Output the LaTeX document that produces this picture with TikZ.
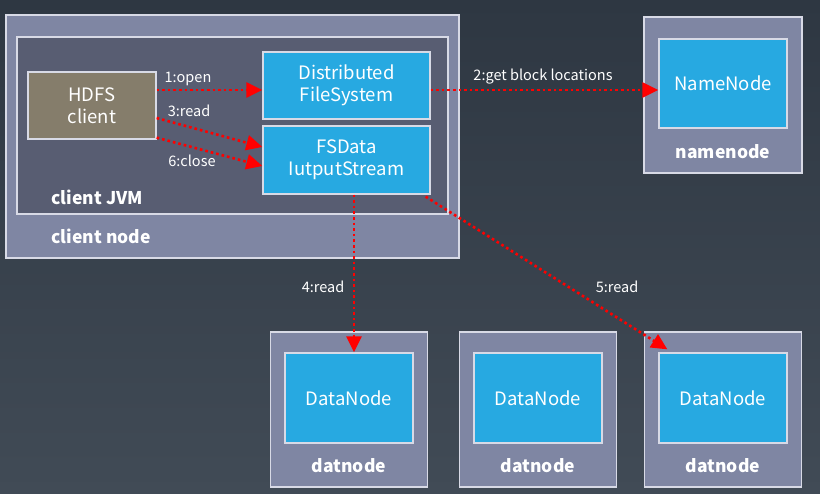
\documentclass[tikz,border=0pt]{standalone}
\usepackage{fontspec}
\setmainfont{Noto Sans CJK SC}
\usetikzlibrary{arrows.meta}

\definecolor{bgtop}{HTML}{2E3742}
\definecolor{bgbot}{HTML}{414B56}
\definecolor{hostfill}{HTML}{7F86A3}
\definecolor{jvmfill}{HTML}{585D72}
\definecolor{procfill}{HTML}{27A9E1}
\definecolor{clientfill}{HTML}{857D6B}
\definecolor{edgecol}{HTML}{D8DAE6}

\begin{document}
\begin{tikzpicture}[x=1pt, y=-1pt]

    \tikzset{hoststyle/.style={draw=edgecol,line width=1.3pt,fill=hostfill,rectangle,inner sep=0pt}}
    \tikzset{procstyle/.style={draw=edgecol,line width=1.3pt,fill=procfill,rectangle,inner sep=0pt,
                               text=white,align=center,font=\fontsize{18.5}{22}\selectfont}}
    \tikzset{tagstyle/.style={text=white,font=\fontsize{17.5}{21}\selectfont\bfseries}}
    \tikzset{callstyle/.style={text=white,font=\fontsize{14.5}{17}\selectfont}}
    \tikzset{rpc/.style={red,line width=2.6pt,dash pattern=on 2.6pt off 3pt,
                         -{Triangle[length=16pt,width=15pt]}}}

    \shade[top color=bgtop, bottom color=bgbot] (0,0) rectangle (820,494);
    \useasboundingbox (0,0) rectangle (820,494);

    % client side
    \node[hoststyle, minimum width=453pt, minimum height=243pt] (cnode) at (232.5,136.5) {};
    \node[hoststyle, fill=jvmfill, minimum width=431pt, minimum height=177pt] (jvm) at (232.5,125.5) {};
    \node[procstyle, fill=clientfill, minimum width=128pt, minimum height=67pt] (hdfs) at (92,105.5) {HDFS\\client};
    \node[procstyle, minimum width=167pt, minimum height=67pt] (dfs) at (346.5,85.5) {Distributed\\FileSystem};
    \node[procstyle, minimum width=167pt, minimum height=68pt] (fsd) at (346.5,160) {FSData\\IutputStream};
    \node[tagstyle, anchor=west] (ljvm) at (48,197) {client JVM};
    \node[tagstyle, anchor=west] (lcnode) at (48,236) {client node};

    % namenode
    \node[hoststyle, minimum width=158pt, minimum height=156pt] (nhost) at (723,95) {};
    \node[procstyle, minimum width=128pt, minimum height=89pt] (nn) at (723,83.5) {NameNode};
    \node[tagstyle] (lnhost) at (723,152) {namenode};

    % datanodes
    \foreach \i/\x in {1/349, 2/538, 3/723} {
        \node[hoststyle, minimum width=157pt, minimum height=155pt] (dhost\i) at (\x,409.5) {};
        \node[procstyle, minimum width=128pt, minimum height=90pt] (dn\i) at (\x,398) {DataNode};
        \node[tagstyle] (ldhost\i) at (\x,466) {datnode};
    }

    \draw[rpc] ([yshift=15.5pt]hdfs.east) -- ([yshift=-4.5pt]dfs.west);
    \draw[rpc] ([yshift=-12.5pt]hdfs.east) -- ([yshift=13pt]fsd.west);
    \draw[rpc] ([yshift=2pt]hdfs.south east) -- ([yshift=-6pt]fsd.west);
    \draw[rpc] ([yshift=-4.5pt]dfs.east) -- ([yshift=-6.5pt]nn.west);
    \draw[rpc] ([xshift=7.5pt]fsd.south) -- ([xshift=7.5pt]fsd.south |- dn1.north);
    \draw[rpc] ([xshift=-5pt,yshift=-2pt]fsd.south east) -- ([xshift=9pt,yshift=3pt]dn3.north west);

    \node[callstyle] (c1) at (188,79) {1:open};
    \node[callstyle] (c2) at (543,77) {2:get block locations};
    \node[callstyle] (c3) at (189,111) {3:read};
    \node[callstyle] (c4) at (323,287) {4:read};
    \node[callstyle] (c5) at (617,287) {5:read};
    \node[callstyle] (c6) at (192,161) {6:close};
\end{tikzpicture}
\end{document}
